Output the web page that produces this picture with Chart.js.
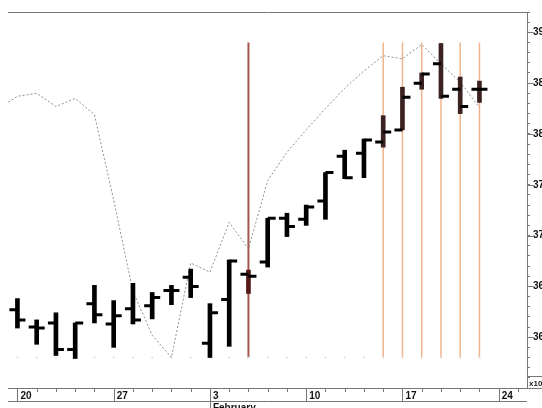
<!DOCTYPE html>
<html>
<head>
<meta charset="utf-8">
<script src="https://cdn.jsdelivr.net/npm/chart.js@4.4.1/dist/chart.umd.min.js"></script>
<style>
  html, body { margin: 0; padding: 0; background: #fff; }
</style>
</head>
<body>
<canvas id="c" width="542" height="408"></canvas>
<script>
// trading days, 0 = Jan 20
const days   = [0, 1, 2, 3, 4, 5, 6, 7, 8, 9, 10, 11, 12, 13, 14, 15, 16, 17, 18, 19, 20, 21, 22, 23, 24];
const opens  = [362.7, 361.0, 361.4, 358.8, 363.3, 361.3, 362.8, 363.1, 364.6, 365.9, 359.4, 363.7, 366.2, 367.4, 371.7, 371.6, 373.4, 377.8, 378.1, 379.2, 380.4, 385.0, 386.9, 384.4, 384.4];
const highs  = [363.8, 361.7, 362.4, 361.4, 365.1, 363.6, 365.3, 364.4, 365.1, 366.7, 363.3, 367.6, 366.6, 371.7, 372.2, 373.0, 376.2, 378.4, 379.5, 381.8, 384.6, 386.0, 388.9, 385.6, 385.2];
const lows   = [360.9, 359.3, 358.2, 357.9, 361.4, 359.0, 361.3, 361.8, 363.2, 363.9, 358.0, 359.1, 364.3, 366.9, 369.9, 371.0, 371.6, 375.6, 375.7, 378.7, 380.4, 384.4, 383.5, 382.0, 383.1];
const closes = [361.7, 360.9, 358.8, 361.4, 362.2, 362.1, 361.7, 363.9, 364.6, 365.0, 362.4, 367.5, 366.0, 371.7, 370.9, 372.8, 376.2, 375.7, 379.4, 380.2, 383.6, 385.9, 383.7, 382.7, 384.4];

// dotted overlay (starts one day before the window)
const dotDays = [-1, 0, 1, 2, 3, 4, 5, 6, 7, 8, 9, 10, 11, 12, 13, 14, 15, 16, 17, 18, 19, 20, 21, 22, 23, 24];
const dotVals = [382.5, 383.7, 384.0, 382.7, 383.5, 381.9, 373.5, 364.5, 360.2, 358.0, 367.3, 366.4, 371.3, 368.7, 375.4, 378.2, 380.4, 382.5, 384.5, 386.2, 387.7, 387.4, 388.8, 386.9, 385.1, 382.6];

// faint base dots
const baseVals = [358, 358, 358, 358, 358, 358, 358, 358, 358, 358, 358, 358, 358, 358, 358, 358, 358, 358, 358, 358, 358, 358, 358, 358, 358];

// vertical marker days
const redDays = [12];
const orangeDays = [19, 20, 21, 22, 23, 24];
const markTop = 389, markBottom = 358;

// axis labels
const xLabelDays = [0, 5, 10, 15, 20, 25];
const xLabels = ['20', '27', '3', '10', '17', '24'];
const monthDay = 10, monthLabel = 'February';
const yTickVals = [360, 365, 370, 375, 380, 385, 390];
const yLabels = ['360', '365', '370', '375', '380', '385', '390'];

const markerData = (list) => {
  const out = [];
  list.forEach(d => {
    out.push({ x: d, y: markTop }, { x: d, y: markBottom }, { x: d, y: null });
  });
  return out;
};

const barColor = (d) => {
  if (redDays.includes(d)) return '#551a17';
  if (orangeDays.includes(d)) return '#3a2220';
  return '#000';
};

const frame = {
  id: 'frame',
  afterDatasetsDraw(chart) {
    const { ctx, scales: { x, y } } = chart;
    ctx.save();
    ctx.lineWidth = 3;
    ctx.strokeStyle = '#000';
    days.forEach((d, i) => {
      const px = x.getPixelForValue(d);
      const po = y.getPixelForValue(opens[i]);
      const pc = y.getPixelForValue(closes[i]);
      ctx.beginPath();
      ctx.moveTo(px - 8, po); ctx.lineTo(px, po);
      ctx.moveTo(px, pc); ctx.lineTo(px + 8, pc);
      ctx.stroke();
    });
    ctx.restore();
  },
  afterDraw(chart) {
    const { ctx, chartArea: a, scales: { x, y } } = chart;
    ctx.save();
    ctx.strokeStyle = '#777';
    ctx.lineWidth = 1;
    ctx.beginPath();
    // top frame line
    ctx.moveTo(a.left, a.top + 0.5); ctx.lineTo(a.right, a.top + 0.5);
    // bottom line of the date band
    ctx.moveTo(a.left, a.bottom + 13.5); ctx.lineTo(a.right, a.bottom + 13.5);
    // date ticks
    x.ticks.forEach(t => {
      const px = Math.round(x.getPixelForValue(t.value)) + 0.5;
      const major = xLabelDays.includes(t.value);
      const len = t.value === monthDay ? 22 : (major ? 13 : 4);
      ctx.moveTo(px, a.bottom); ctx.lineTo(px, a.bottom + len);
    });
    // longer major price ticks
    yTickVals.forEach(v => {
      const py = Math.round(y.getPixelForValue(v)) + 0.5;
      ctx.moveTo(a.right, py); ctx.lineTo(a.right + 6, py);
    });
    ctx.stroke();
    // x10 box
    ctx.strokeRect(a.right + 0.5, a.bottom - 11.5, 16, 12);
    ctx.fillStyle = '#222';
    ctx.font = 'bold 8px "Liberation Sans", Arial, sans-serif';
    ctx.textBaseline = 'alphabetic';
    ctx.fillText('x10', a.right + 2, a.bottom - 2);
    ctx.restore();
  }
};

const tickFont = { family: '"Liberation Sans", Arial, sans-serif', size: 10, weight: 'bold' };

new Chart(document.getElementById('c'), {
  type: 'bar',
  data: {
    datasets: [
      {
        type: 'bar',
        data: days.map((d, i) => ({ x: d, y: [lows[i], highs[i]] })),
        backgroundColor: (c) => barColor(days[c.dataIndex]),
        borderWidth: 0,
        barThickness: 4,
        order: 1
      },
      {
        type: 'line',
        data: dotDays.map((d, i) => ({ x: d, y: dotVals[i] })),
        borderColor: '#8f8f8f',
        borderWidth: 1,
        borderDash: [2, 2],
        pointRadius: 0,
        tension: 0,
        order: 2
      },
      {
        type: 'scatter',
        data: days.map((d, i) => ({ x: d, y: baseVals[i] })),
        pointRadius: 1,
        pointBackgroundColor: '#dcdcdc',
        pointBorderWidth: 0,
        order: 2
      },
      {
        type: 'line',
        data: markerData(orangeDays),
        borderColor: '#f0b48c',
        borderWidth: 1.5,
        pointRadius: 0,
        spanGaps: false,
        order: 3
      },
      {
        type: 'line',
        data: markerData(redDays),
        borderColor: '#a3544c',
        borderWidth: 2,
        pointRadius: 0,
        spanGaps: false,
        order: 3
      }
    ]
  },
  options: {
    responsive: false,
    animation: false,
    layout: { padding: { left: 8, top: 12, right: 0, bottom: 0 } },
    plugins: { legend: { display: false }, tooltip: { enabled: false } },
    scales: {
      x: {
        type: 'linear',
        min: -0.49,
        max: 26.47,
        offset: false,
        grid: { display: false, drawTicks: false },
        border: { display: true, color: '#777' },
        afterFit: (s) => { s.height = 20; },
        ticks: {
          stepSize: 1,
          autoSkip: false,
          includeBounds: false,
          maxRotation: 0,
          align: 'start',
          labelOffset: 3,
          padding: 2,
          color: '#111',
          font: tickFont,
          callback: (v) => {
            const k = xLabelDays.indexOf(v);
            if (k < 0) return '';
            return v === monthDay ? [xLabels[k], monthLabel] : xLabels[k];
          }
        }
      },
      y: {
        position: 'right',
        min: 355,
        max: 392,
        grid: { drawOnChartArea: false, drawTicks: true, tickLength: 3, color: '#777' },
        border: { display: true, color: '#777' },
        afterFit: (s) => { s.width = 15; },
        ticks: {
          stepSize: 1,
          autoSkip: false,
          includeBounds: false,
          padding: 3,
          color: '#111',
          font: tickFont,
          callback: (v) => {
            const k = yTickVals.indexOf(v);
            return k < 0 ? '' : yLabels[k];
          }
        }
      }
    }
  },
  plugins: [frame]
});
</script>
</body>
</html>
